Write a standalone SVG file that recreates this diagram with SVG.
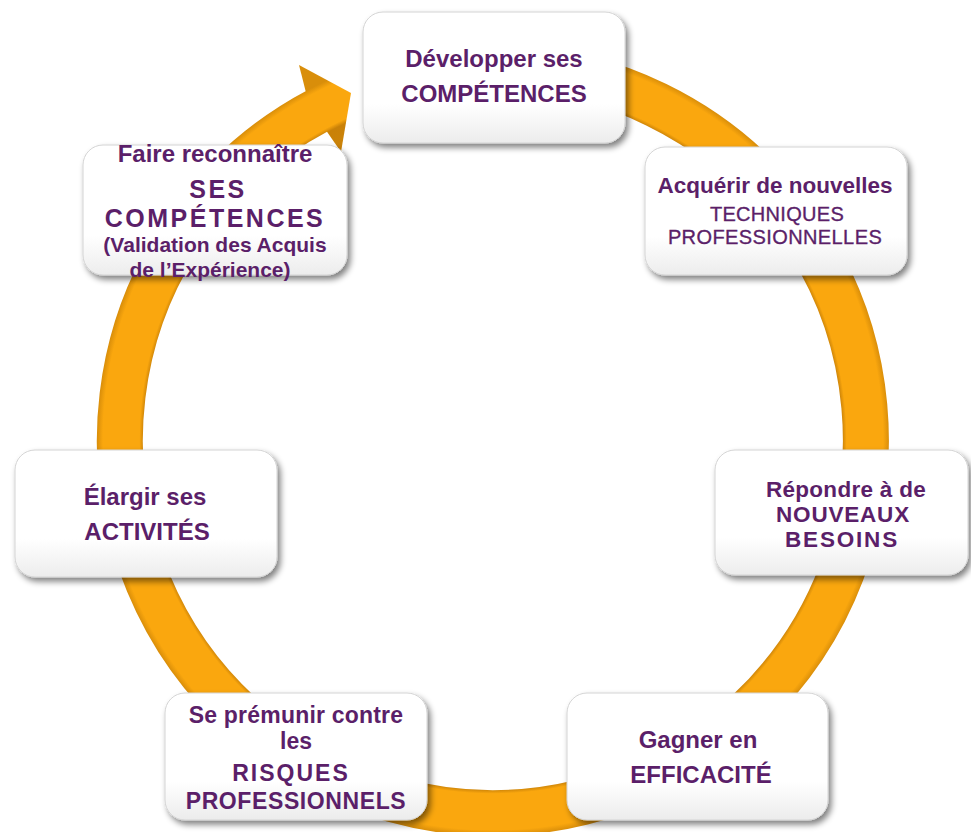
<svg xmlns="http://www.w3.org/2000/svg" width="971" height="832" viewBox="0 0 971 832">
<defs>
<radialGradient id="ringG" gradientUnits="userSpaceOnUse" cx="493" cy="440" r="396">
<stop offset="0" stop-color="#FAA70E"/>
<stop offset="0.882" stop-color="#C98108"/>
<stop offset="0.893" stop-color="#FAA70E"/>
<stop offset="0.985" stop-color="#FAA70E"/>
<stop offset="1" stop-color="#D98E0A"/>
</radialGradient>
<linearGradient id="boxG" x1="0" y1="0" x2="0" y2="1">
<stop offset="0" stop-color="#ffffff"/>
<stop offset="0.7" stop-color="#ffffff"/>
<stop offset="1" stop-color="#ececec"/>
</linearGradient>
<filter id="sh" x="-10%" y="-10%" width="125%" height="130%">
<feGaussianBlur in="SourceAlpha" stdDeviation="3"/>
<feOffset dx="3" dy="4" result="b"/>
<feComponentTransfer><feFuncA type="linear" slope="0.5"/></feComponentTransfer>
<feMerge><feMergeNode/><feMergeNode in="SourceGraphic"/></feMerge>
</filter>
</defs>
<style>
.box{fill:url(#boxG);stroke:#d4d4d4;stroke-width:1;filter:url(#sh)}
text{font-family:"Liberation Sans",Arial,sans-serif;font-weight:bold;fill:#5B1F69;text-anchor:middle}
.reg{font-weight:normal;stroke:#5B1F69;stroke-width:0.35}
</style>
<rect width="971" height="832" fill="#ffffff"/>
<g id="connectors">
<path d="M493,67 A373,373 0 1 1 319,110" fill="none" stroke="url(#ringG)" stroke-width="46"/>
<polygon points="305.6,90.9 299,65 351,93 341,152 327,131.7" fill="url(#ringG)"/>
</g>
<g id="n1">
<rect class="box" x="363" y="12" width="262" height="131" rx="20"/>
<text x="494" y="67" font-size="24">Développer ses</text>
<text x="494" y="102" font-size="24">COMPÉTENCES</text>
</g>
<g id="n2">
<rect class="box" x="645" y="147" width="262" height="128" rx="20"/>
<text x="775" y="193" font-size="22.5">Acquérir de nouvelles</text>
<text class="reg" x="777" y="221" font-size="20" letter-spacing="0.3">TECHNIQUES</text>
<text class="reg" x="775" y="244" font-size="20" letter-spacing="0.4">PROFESSIONNELLES</text>
</g>
<g id="n3">
<rect class="box" x="715" y="450" width="253" height="125" rx="20"/>
<text x="846" y="497" font-size="22.5" letter-spacing="0.3">Répondre à de</text>
<text x="843" y="522" font-size="22.5" letter-spacing="0.8">NOUVEAUX</text>
<text x="842" y="547" font-size="22.5" letter-spacing="1.8">BESOINS</text>
</g>
<g id="n4">
<rect class="box" x="567" y="693" width="261" height="127" rx="20"/>
<text x="698" y="748" font-size="24">Gagner en</text>
<text x="701" y="783" font-size="24">EFFICACITÉ</text>
</g>
<g id="n5">
<rect class="box" x="165" y="693" width="262" height="127" rx="20"/>
<text x="296" y="723" font-size="23" letter-spacing="0.2">Se prémunir contre</text>
<text x="296" y="749" font-size="23">les</text>
<text x="291" y="781" font-size="23" letter-spacing="2">RISQUES</text>
<text x="296" y="809" font-size="23" letter-spacing="0.6">PROFESSIONNELS</text>
</g>
<g id="n6">
<rect class="box" x="15" y="450" width="262" height="127" rx="20"/>
<text x="145" y="505" font-size="24">Élargir ses</text>
<text x="147" y="540" font-size="24">ACTIVITÉS</text>
</g>
<g id="n7">
<rect class="box" x="83" y="145" width="264" height="130" rx="20"/>
<text x="215" y="162" font-size="24">Faire reconnaître</text>
<text x="218" y="198" font-size="25" letter-spacing="2.5">SES</text>
<text x="215" y="227" font-size="25" letter-spacing="2.5">COMPÉTENCES</text>
<text x="215" y="252" font-size="21">(Validation des Acquis</text>
<text x="210" y="276.5" font-size="21">de l’Expérience)</text>
</g>
</svg>
